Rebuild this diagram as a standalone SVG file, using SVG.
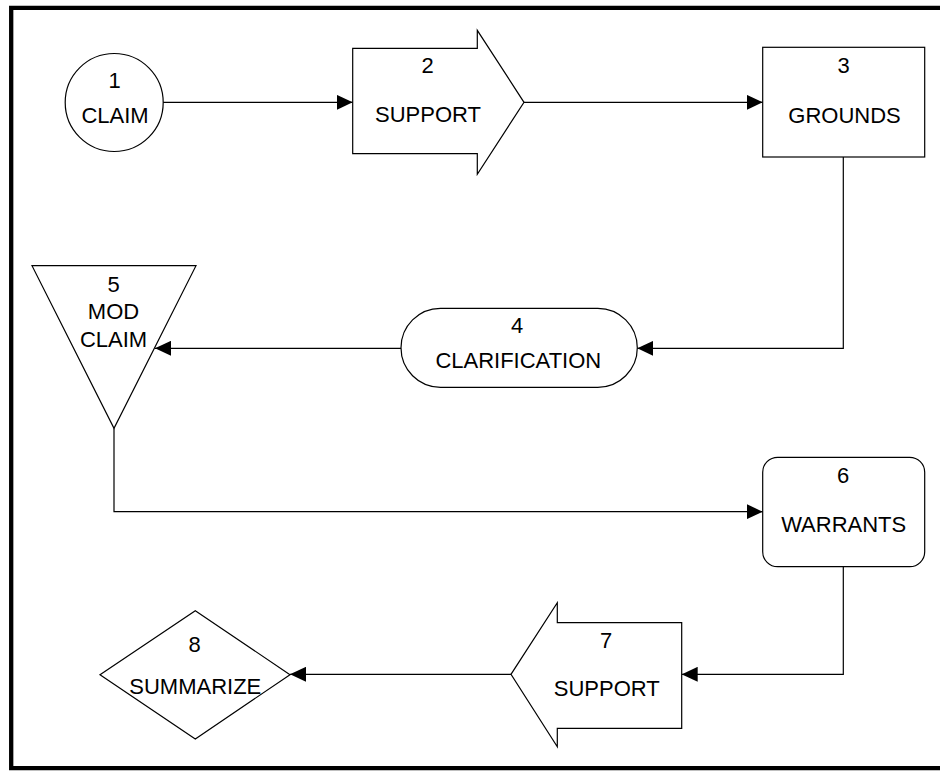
<svg xmlns="http://www.w3.org/2000/svg" width="940" height="771" viewBox="0 0 940 771">
  <style>
    .shape { fill: #ffffff; stroke: #000000; stroke-width: 1.2; }
    .link { fill: none; stroke: #000000; stroke-width: 1.2; }
    text { font-family: "Liberation Sans", Arial, sans-serif; font-size: 22px; fill: #000000; text-anchor: middle; }
  </style>
  <defs>
    <marker id="arrow" viewBox="0 0 16 15" refX="16" refY="7.5" markerWidth="16" markerHeight="15" markerUnits="userSpaceOnUse" orient="auto">
      <path d="M0,0 L16,7.5 L0,15 Z" fill="#000000"/>
    </marker>
  </defs>
  <rect width="940" height="771" fill="#ffffff"/>

  <!-- page frame (open on the right) -->
  <path d="M945,7.9 L11.2,7.9 L11.2,768.2 L945,768.2" fill="none" stroke="#000000" stroke-width="4.3"/>

  <!-- connectors -->
  <g id="connectors">
    <path class="link" d="M163,102.3 L352.7,102.3" marker-end="url(#arrow)"/>
    <path class="link" d="M524,102.3 L762.7,102.3" marker-end="url(#arrow)"/>
    <path class="link" d="M843.3,157 L843.3,348.3 L637.3,348.3" marker-end="url(#arrow)"/>
    <path class="link" d="M401,348.3 L155,348.3" marker-end="url(#arrow)"/>
    <path class="link" d="M114,428.3 L114,511.7 L762.7,511.7" marker-end="url(#arrow)"/>
    <path class="link" d="M843.3,566.7 L843.3,674.3 L681.7,674.3" marker-end="url(#arrow)"/>
    <path class="link" d="M511,674.3 L290,674.3" marker-end="url(#arrow)"/>
  </g>

  <!-- 1 CLAIM -->
  <g id="node1">
    <circle class="shape" cx="114.2" cy="102.5" r="49"/>
    <text x="114.5" y="88.3">1</text>
    <text x="115" y="123.3">CLAIM</text>
  </g>

  <!-- 2 SUPPORT (right block arrow) -->
  <g id="node2">
    <polygon class="shape" points="352.7,48.3 477.3,48.3 477.3,30.3 524,102.3 477.3,174.3 477.3,153.7 352.7,153.7"/>
    <text x="427.5" y="73.3">2</text>
    <text x="428" y="121.7">SUPPORT</text>
  </g>

  <!-- 3 GROUNDS -->
  <g id="node3">
    <rect class="shape" x="762.7" y="47.3" width="162" height="109.7"/>
    <text x="843.5" y="72.7">3</text>
    <text x="844.5" y="122.7">GROUNDS</text>
  </g>

  <!-- 4 CLARIFICATION (terminator) -->
  <g id="node4">
    <rect class="shape" x="401" y="308.3" width="236.3" height="79" rx="39.5" ry="39.5"/>
    <text x="517" y="333.3">4</text>
    <text x="518.3" y="367.7">CLARIFICATION</text>
  </g>

  <!-- 5 MOD CLAIM (inverted triangle) -->
  <g id="node5">
    <polygon class="shape" points="32,265.7 196,265.7 114,428.3"/>
    <text x="113.5" y="291.7">5</text>
    <text x="113.5" y="319">MOD</text>
    <text x="113.5" y="346.7">CLAIM</text>
  </g>

  <!-- 6 WARRANTS -->
  <g id="node6">
    <rect class="shape" x="762.7" y="457.3" width="162" height="109.4" rx="15" ry="15"/>
    <text x="843" y="483.3">6</text>
    <text x="843.7" y="531.7">WARRANTS</text>
  </g>

  <!-- 7 SUPPORT (left block arrow) -->
  <g id="node7">
    <polygon class="shape" points="681.7,622.7 557.3,622.7 557.3,602.7 511,674.3 557.3,746.7 557.3,728.3 681.7,728.3"/>
    <text x="606" y="648.3">7</text>
    <text x="606.7" y="696">SUPPORT</text>
  </g>

  <!-- 8 SUMMARIZE (decision) -->
  <g id="node8">
    <polygon class="shape" points="195.3,610.7 290,674.7 195.3,739 100,674.7"/>
    <text x="194.5" y="651.7">8</text>
    <text x="195.3" y="694.3">SUMMARIZE</text>
  </g>
</svg>
